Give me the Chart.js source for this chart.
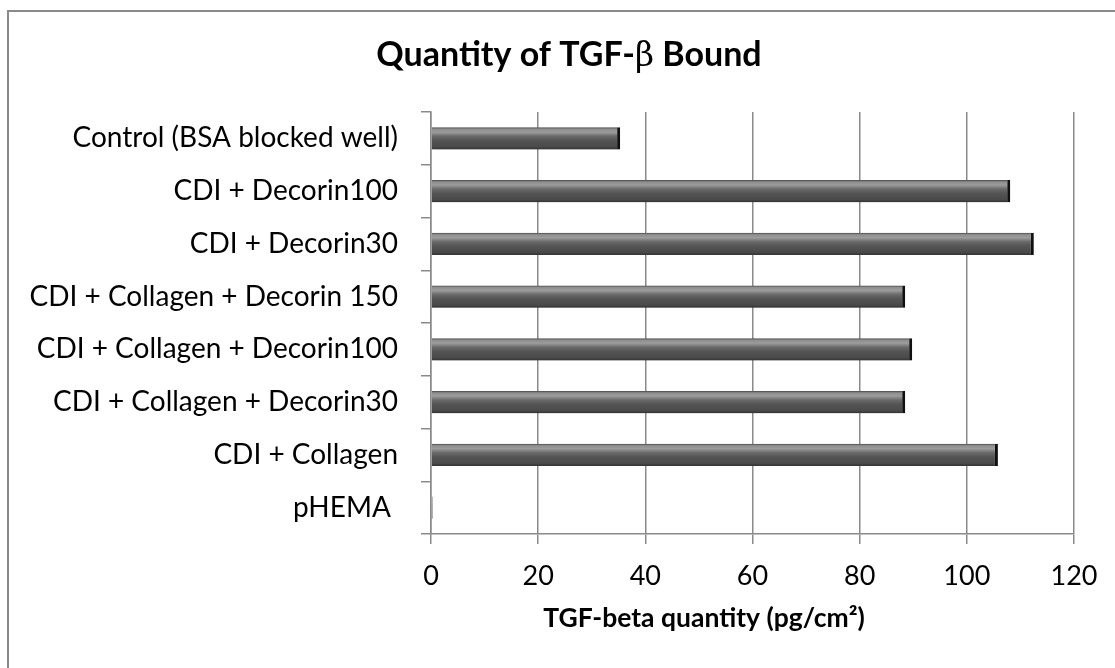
<!DOCTYPE html>
<html>
<head>
<meta charset="utf-8">
<script src="https://cdn.jsdelivr.net/npm/chart.js@4"></script>
<style>
html, body { margin: 0; padding: 0; background: #fff; overflow: hidden; }
#frame { position: absolute; left: 7px; top: 10px; width: 1300px; height: 900px; border: 2px solid #8a8a8a; box-sizing: border-box; }
#wrap { position: absolute; left: 0; top: 0; width: 1115px; height: 668px; }
</style>
</head>
<body>
<div id="frame"></div>
<div id="wrap"><canvas id="chart"></canvas></div>
<script>
var categories = ['Control (BSA blocked well)', 'CDI + Decorin100', 'CDI + Decorin30', 'CDI + Collagen + Decorin 150', 'CDI + Collagen + Decorin100', 'CDI + Collagen + Decorin30', 'CDI + Collagen', 'pHEMA '];
var tgfValues = [35.3, 108.1, 112.5, 88.5, 89.8, 88.5, 105.8, 0.3];
var xMin = 0;
var xMax = 120;
var xStep = 20;
var titleParts = ['Quantity of TGF-', 'β', ' Bound'];
var xTitle = 'TGF-beta quantity (pg/cm²)';

var labelFont = 'Lato';
var gridGray = '#8a8a8a';

// vertical bevel gradient, one per bar
function barFill(context) {
  var chart = context.chart;
  var yScale = chart.scales.y;
  if (!yScale || context.dataIndex === undefined) return '#555555';
  var mid = yScale.getPixelForValue(context.dataIndex);
  if (!isFinite(mid)) return '#555555';
  var half = 11;
  var g = chart.ctx.createLinearGradient(0, mid - half, 0, mid + half);
  g.addColorStop(0, '#4a4a4a');
  g.addColorStop(0.08, '#8e8e8e');
  g.addColorStop(0.22, '#9c9c9c');
  g.addColorStop(0.4, '#6a6a6a');
  g.addColorStop(0.6, '#545454');
  g.addColorStop(0.88, '#4a4a4a');
  g.addColorStop(1, '#333333');
  return g;
}

var shadowPlugin = {
  id: 'shadowPlugin',
  beforeDatasetsDraw: function(chart) {
    var ctx = chart.ctx;
    ctx.save();
    ctx.shadowColor = 'rgba(0,0,0,0.25)';
    ctx.shadowBlur = 4;
    ctx.shadowOffsetY = 3;
  },
  afterDatasetsDraw: function(chart) {
    chart.ctx.restore();
  }
};

var textPlugin = {
  id: 'textPlugin',
  afterDraw: function(chart) {
    var ctx = chart.ctx;
    ctx.save();
    ctx.fillStyle = '#000';
    ctx.textBaseline = 'alphabetic';
    ctx.textAlign = 'left';

    // main title, the beta in a serif face like the original
    var fonts = ['bold 34px ' + labelFont, '33px "DejaVu Serif"', 'bold 34px ' + labelFont];
    var widths = [];
    var total = 0;
    for (var i = 0; i < titleParts.length; i++) {
      ctx.font = fonts[i];
      widths[i] = ctx.measureText(titleParts[i]).width;
      total += widths[i];
    }
    var x = 569 - total / 2;
    for (var j = 0; j < titleParts.length; j++) {
      ctx.font = fonts[j];
      ctx.fillText(titleParts[j], x, 66);
      x += widths[j];
    }

    // x axis title
    ctx.font = 'bold 26.5px ' + labelFont;
    ctx.textAlign = 'center';
    ctx.fillText(xTitle, 704, 627);
    ctx.restore();
  }
};

var ctx = document.getElementById('chart').getContext('2d');
var chart = new Chart(ctx, {
  type: 'bar',
  data: {
    labels: categories,
    datasets: [{
      label: 'TGF-beta quantity',
      data: tgfValues,
      backgroundColor: barFill,
      borderColor: '#111111',
      borderWidth: { top: 0, bottom: 0, left: 0, right: 3 },
      borderSkipped: false,
      barPercentage: 0.42,
      categoryPercentage: 1
    }]
  },
  options: {
    indexAxis: 'y',
    responsive: true,
    maintainAspectRatio: false,
    animation: false,
    layout: { padding: { top: 112, right: 41, left: 0, bottom: 0 } },
    plugins: {
      legend: { display: false },
      title: { display: false },
      tooltip: { enabled: false }
    },
    scales: {
      x: {
        min: xMin,
        max: xMax,
        ticks: {
          stepSize: xStep,
          color: '#000',
          padding: 16,
          font: { family: labelFont, size: 27 }
        },
        grid: { color: gridGray, lineWidth: 1.5, tickLength: 10 },
        border: { color: gridGray, width: 1.5 },
        afterFit: function(scale) { scale.height = 134; }
      },
      y: {
        ticks: {
          color: '#000',
          padding: 23,
          font: { family: labelFont, size: 28 }
        },
        grid: { drawOnChartArea: false, color: gridGray, lineWidth: 1.5, tickLength: 10, offset: true },
        border: { color: gridGray, width: 1.5 },
        afterFit: function(scale) { scale.width = 431; }
      }
    }
  },
  plugins: [shadowPlugin, textPlugin]
});
</script>
</body>
</html>
